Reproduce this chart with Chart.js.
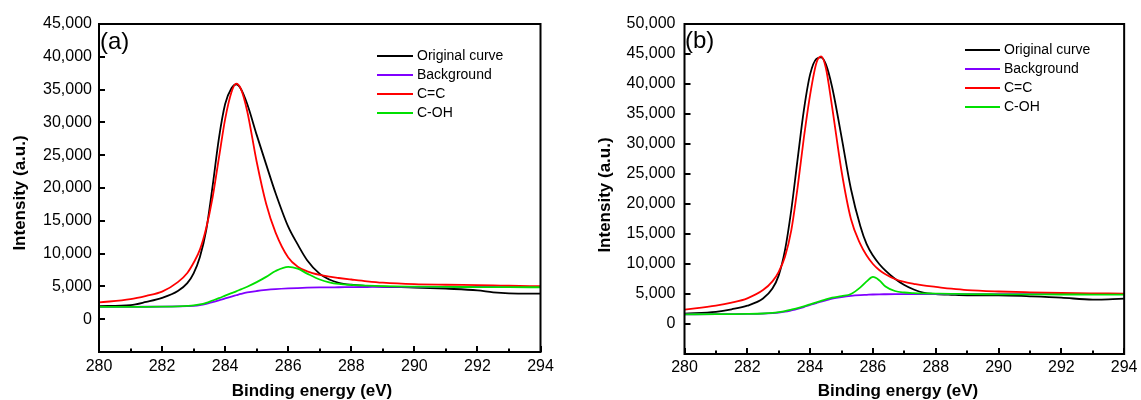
<!DOCTYPE html>
<html><head><meta charset="utf-8">
<script src="https://cdn.jsdelivr.net/npm/chart.js@4.4.1/dist/chart.umd.min.js"></script>
<style>
html,body{margin:0;padding:0;background:#fff;width:1141px;height:400px;overflow:hidden;}
#wa{position:absolute;left:0;top:0;width:570px;height:400px;}
#wb{position:absolute;left:580px;top:0;width:561px;height:400px;}
canvas{display:block;}
</style></head><body>
<div id="wa"><canvas id="ca" width="570" height="400"></canvas></div>
<div id="wb"><canvas id="cb" width="561" height="400"></canvas></div>
<script>
// ---------- data ----------
const seriesLabels = ['Original curve', 'Background', 'C=C', 'C-OH'];
const panelLabels = ['(a)', '(b)'];
const xTitle = 'Binding energy (eV)';
const yTitle = 'Intensity (a.u.)';
const xMin = 280, xMax = 294;
const yMinA = -5000, yMaxA = 45000;
const yMinB = -5000, yMaxB = 50000;

// Panel (a)
const energyA = [280, 281, 281.5, 282, 282.5, 282.8, 283, 283.2, 283.4, 283.6, 283.8, 284, 284.2, 284.35, 284.5, 284.7, 285, 285.3, 285.6, 286, 286.3, 286.6, 287, 287.3, 287.6, 288, 288.5, 289, 290, 291, 292, 292.5, 293, 294];
const originalA = [2000, 2150, 2640, 3250, 4300, 5500, 7000, 9500, 13600, 20200, 27500, 32800, 35200, 35800, 35100, 32800, 28100, 23600, 19200, 14100, 11400, 9000, 6900, 6050, 5550, 5250, 5080, 4950, 4830, 4650, 4400, 4100, 3950, 3900];
const backgroundA = [1880, 1890, 1900, 1920, 1950, 1980, 2020, 2130, 2330, 2600, 2870, 3170, 3450, 3650, 3850, 4080, 4300, 4460, 4580, 4690, 4750, 4800, 4840, 4860, 4870, 4890, 4910, 4930, 4930, 4920, 4910, 4905, 4900, 4900];
const ccA = [2550, 3050, 3560, 4200, 5650, 7050, 8600, 10600, 13900, 18500, 24500, 30500, 34600, 35900, 35100, 31700, 24000, 17600, 13200, 9400, 8000, 7300, 6750, 6480, 6280, 6050, 5780, 5570, 5340, 5250, 5190, 5150, 5100, 5030];
const cohA = [1880, 1880, 1890, 1920, 1970, 2030, 2100, 2250, 2500, 2850, 3200, 3600, 3980, 4250, 4550, 4950, 5650, 6450, 7350, 7980, 7700, 6950, 6050, 5620, 5370, 5220, 5110, 5030, 4960, 4920, 4900, 4890, 4880, 4870];

// Panel (b)
const energyB = [280, 281, 281.5, 282, 282.5, 282.8, 283, 283.2, 283.4, 283.6, 283.8, 284, 284.2, 284.35, 284.5, 284.7, 285, 285.3, 285.6, 285.8, 286, 286.2, 286.4, 286.7, 287, 287.3, 287.6, 288, 288.5, 289, 290, 291, 292, 293, 293.5, 294];
const originalB = [1730, 2030, 2450, 3050, 4250, 5900, 8100, 12300, 19000, 27400, 35600, 41600, 44200, 44450, 43300, 39500, 31200, 22500, 16300, 13300, 11400, 10000, 8900, 7550, 6500, 5750, 5220, 5000, 4870, 4780, 4790, 4620, 4400, 4070, 4100, 4230];
const backgroundB = [1620, 1630, 1650, 1680, 1740, 1820, 1900, 2050, 2270, 2520, 2830, 3170, 3480, 3720, 3940, 4220, 4500, 4700, 4820, 4870, 4920, 4950, 4960, 4970, 4975, 4978, 4980, 4980, 4980, 4980, 4980, 4980, 4980, 4980, 4980, 4980];
const ccB = [2400, 3050, 3550, 4280, 5650, 7100, 8700, 11200, 15600, 22700, 31000, 38200, 43500, 44600, 42700, 36200, 25500, 17500, 13300, 11400, 10000, 9000, 8300, 7500, 7010, 6700, 6420, 6180, 5880, 5650, 5420, 5280, 5170, 5110, 5090, 5070];
const cohB = [1620, 1630, 1650, 1680, 1750, 1850, 1980, 2150, 2400, 2650, 2950, 3280, 3600, 3850, 4100, 4380, 4650, 5000, 6100, 7100, 7850, 7300, 6250, 5500, 5250, 5150, 5100, 5070, 5030, 4980, 4950, 4930, 4920, 4910, 4905, 4900];

// ---------- styles ----------
const seriesColors = ['#000000', '#8000ff', '#ff0000', '#00e000'];
const seriesOrder = [4, 3, 2, 1];
const FONT = '"Liberation Sans", Arial, Helvetica, sans-serif';

const decorPlugin = {
  id: 'decor',
  afterDraw(chart) {
    const o = chart.options.plugins.decor;
    const ctx = chart.ctx;
    const {left, top, right, bottom} = chart.chartArea;
    const xs = chart.scales.x, ys = chart.scales.y;
    ctx.save();
    // frame
    ctx.strokeStyle = '#000';
    ctx.lineWidth = 2;
    ctx.strokeRect(left, top, right - left, bottom - top);
    // inward ticks
    ctx.beginPath();
    xs.ticks.forEach(t => {
      const px = Math.round(xs.getPixelForValue(t.value));
      const len = (Math.round(t.value) % 2 === 0) ? 6 : 3.5;
      ctx.moveTo(px, bottom);
      ctx.lineTo(px, bottom - len);
    });
    ys.ticks.forEach(t => {
      const py = Math.round(ys.getPixelForValue(t.value));
      ctx.moveTo(left, py);
      ctx.lineTo(left + 6, py);
    });
    ctx.stroke();
    ctx.fillStyle = '#000';
    ctx.textBaseline = 'middle';
    // axis titles
    ctx.font = 'bold 17px ' + FONT;
    ctx.textAlign = 'center';
    ctx.fillText(xs.options.title.text, o.xTitleX, o.xTitleY);
    ctx.save();
    ctx.translate(o.yTitleX, o.yTitleY);
    ctx.rotate(-Math.PI / 2);
    ctx.fillText(ys.options.title.text, 0, 0);
    ctx.restore();
    // panel label
    ctx.font = '24px ' + FONT;
    ctx.textAlign = 'left';
    ctx.fillText(o.panel, o.panelX, o.panelY);
    // legend
    ctx.font = '14px ' + FONT;
    chart.data.datasets.forEach((ds, i) => {
      const y = o.legY + i * o.legStep;
      ctx.strokeStyle = ds.borderColor;
      ctx.lineWidth = 2;
      ctx.beginPath();
      ctx.moveTo(o.legX, y);
      ctx.lineTo(o.legX + o.legLen, y);
      ctx.stroke();
      ctx.fillStyle = '#000';
      ctx.fillText(ds.label, o.legX + o.legLen + 4, y);
    });
    ctx.restore();
  }
};

function makeChart(id, energy, series, yMin, yMax, cfg) {
  return new Chart(document.getElementById(id), {
    type: 'line',
    data: {
      datasets: series.map((vals, i) => ({
        label: seriesLabels[i],
        data: energy.map((e, j) => ({x: e, y: vals[j]})),
        borderColor: seriesColors[i],
        backgroundColor: seriesColors[i],
        borderWidth: 1.8,
        pointRadius: 0,
        fill: false,
        cubicInterpolationMode: 'monotone',
        order: seriesOrder[i]
      }))
    },
    options: {
      responsive: false,
      animation: false,
      layout: {padding: {left: 0, right: cfg.padRight, top: 24, bottom: 0}},
      plugins: {
        legend: {display: false},
        tooltip: {enabled: false},
        decor: cfg.decor
      },
      scales: {
        x: {
          type: 'linear', min: xMin, max: xMax,
          grid: {drawOnChartArea: false, drawTicks: false},
          border: {display: false},
          ticks: {
            stepSize: 1, autoSkip: false, maxRotation: 0, minRotation: 0,
            padding: cfg.xPad, color: '#000', font: {family: FONT, size: 16},
            callback: v => (Math.round(v) % 2 === 0 ? String(v) : '')
          },
          title: {display: false, text: xTitle},
          afterFit: s => { s.height = cfg.xHeight; }
        },
        y: {
          type: 'linear', min: yMin, max: yMax,
          grid: {drawOnChartArea: false, drawTicks: false},
          border: {display: false},
          ticks: {
            stepSize: 5000, padding: cfg.yPad, color: '#000', font: {family: FONT, size: 16},
            callback: v => (v < 0 ? '' : Number(v).toLocaleString('en-US'))
          },
          title: {display: false, text: yTitle},
          afterFit: s => { s.width = cfg.yWidth; }
        }
      }
    },
    plugins: [decorPlugin]
  });
}

makeChart('ca', energyA, [originalA, backgroundA, ccA, cohA], yMinA, yMaxA, {
  padRight: 29.5, xHeight: 48, yWidth: 99, xPad: 5, yPad: 7,
  decor: {panel: panelLabels[0], panelX: 100, panelY: 42, legX: 377, legY: 56, legLen: 36, legStep: 19,
          xTitleX: 312, xTitleY: 391, yTitleX: 20, yTitleY: 193}
});
makeChart('cb', energyB, [originalB, backgroundB, ccB, cohB], yMinB, yMaxB, {
  padRight: 13.5, xHeight: 46, yWidth: 104.5, xPad: 3.5, yPad: 9,
  decor: {panel: panelLabels[1], panelX: 105, panelY: 41, legX: 385, legY: 50, legLen: 35, legStep: 19,
          xTitleX: 318, xTitleY: 391, yTitleX: 25, yTitleY: 195}
});
</script>
</body></html>
